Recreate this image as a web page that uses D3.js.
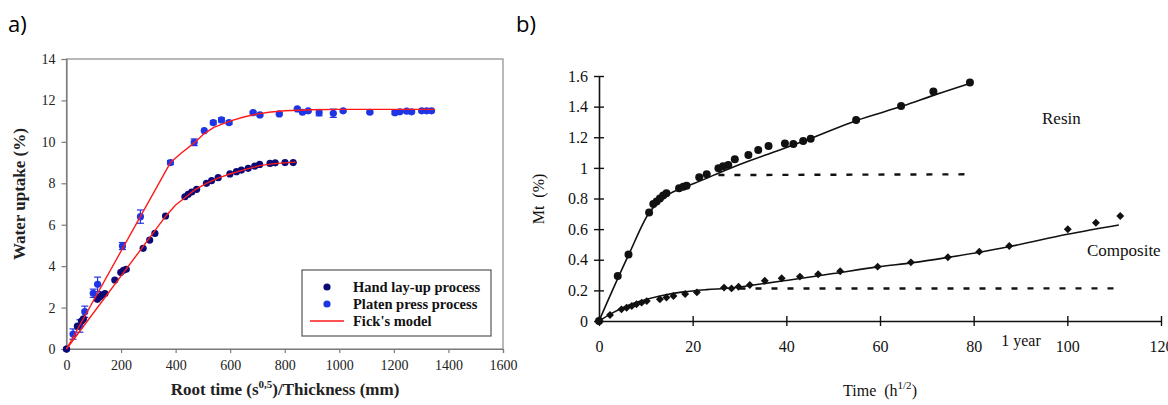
<!DOCTYPE html>
<html>
<head>
<meta charset="utf-8">
<script src="https://cdn.jsdelivr.net/npm/d3@7"></script>
<style>
  html, body { margin: 0; padding: 0; background: #ffffff; }
  svg { display: block; }
</style>
</head>
<body>
<svg id="chart" width="1168" height="405"></svg>
<script>
// ---------- Panel a) data ----------
const handX = [0, 40, 55, 62, 113, 122, 131, 141, 177, 199, 209, 219, 281, 305, 324, 363, 434, 446, 459, 477, 513, 532, 556, 599, 623, 641, 666, 690, 708, 746, 765, 801, 831];
const handY = [0, 1.1, 1.35, 1.45, 2.4, 2.52, 2.62, 2.68, 3.33, 3.7, 3.8, 3.85, 4.86, 5.26, 5.58, 6.42, 7.35, 7.47, 7.58, 7.71, 8.0, 8.13, 8.27, 8.45, 8.56, 8.64, 8.72, 8.83, 8.91, 8.96, 8.99, 9.0, 9.0];

const platenX = [0, 24, 49, 67, 98, 114, 205, 271, 381, 468, 505, 538, 568, 596, 684, 709, 780, 846, 865, 886, 926, 978, 1014, 1112, 1204, 1222, 1247, 1265, 1302, 1320, 1338];
const platenY = [0, 0.72, 1.11, 1.8, 2.69, 3.12, 4.97, 6.39, 9.0, 9.98, 10.54, 10.93, 11.06, 10.93, 11.41, 11.3, 11.35, 11.59, 11.43, 11.5, 11.41, 11.38, 11.5, 11.43, 11.41, 11.45, 11.48, 11.45, 11.5, 11.5, 11.5];
const platenErr = [0, 0.25, 0.3, 0.27, 0.2, 0.35, 0.17, 0.32, 0.1, 0.16, 0, 0.08, 0.1, 0.08, 0.05, 0.05, 0.05, 0.05, 0.05, 0.05, 0.15, 0.2, 0.05, 0.05, 0.08, 0.05, 0.05, 0.05, 0.05, 0.05, 0.05];

const fickHandX = [0, 363, 400, 434, 470, 513, 555, 599, 650, 708, 770, 840];
const fickHandY = [0, 6.4, 6.95, 7.3, 7.68, 8.0, 8.25, 8.45, 8.65, 8.85, 8.96, 9.02];
const fickPlatenX = [0, 381, 420, 468, 505, 540, 575, 611, 650, 700, 750, 800, 900, 1000, 1350];
const fickPlatenY = [0, 9.0, 9.45, 9.95, 10.4, 10.7, 10.88, 11.05, 11.2, 11.35, 11.44, 11.5, 11.55, 11.57, 11.57];

const xTicksA = [0, 200, 400, 600, 800, 1000, 1200, 1400, 1600];
const yTicksA = [0, 2, 4, 6, 8, 10, 12, 14];
const legendLabelsA = ["Hand lay-up process", "Platen press process", "Fick's model"];

// ---------- Panel b) data ----------
const resinX = [0, 4.0, 6.3, 10.7, 11.6, 12.3, 13.0, 13.7, 14.4, 17.1, 18.0, 18.7, 21.4, 23.0, 25.5, 26.5, 27.6, 29.0, 31.9, 34.0, 36.2, 39.7, 41.5, 43.6, 45.2, 54.9, 64.5, 71.4, 79.2];
const resinY = [0, 0.294, 0.435, 0.708, 0.764, 0.78, 0.80, 0.82, 0.835, 0.867, 0.877, 0.883, 0.938, 0.958, 0.997, 1.01, 1.018, 1.056, 1.084, 1.117, 1.143, 1.16, 1.156, 1.176, 1.19, 1.313, 1.404, 1.498, 1.557];
const resinFitX = [0, 6.3, 11, 13, 15, 18, 22, 27, 32, 38, 45, 55, 65, 72, 79.5];
const resinFitY = [0, 0.43, 0.72, 0.78, 0.83, 0.87, 0.92, 0.985, 1.045, 1.11, 1.19, 1.31, 1.405, 1.48, 1.555];
const resinDashX = [25.5, 79.2];
const resinDashY = [0.953, 0.958];

const compX = [0, 2.35, 4.8, 5.9, 7.0, 8.0, 9.1, 10.2, 13.0, 14.4, 15.9, 18.4, 20.9, 26.7, 28.3, 29.8, 32.2, 35.4, 39.0, 42.9, 46.8, 51.5, 59.5, 66.6, 74.5, 81.2, 87.6, 100.1, 106.1, 111.3];
const compY = [0, 0.039, 0.076, 0.087, 0.098, 0.109, 0.12, 0.13, 0.142, 0.154, 0.163, 0.176, 0.187, 0.218, 0.213, 0.224, 0.235, 0.263, 0.279, 0.29, 0.305, 0.325, 0.355, 0.383, 0.416, 0.453, 0.49, 0.599, 0.642, 0.686];
const compFitX = [0, 3, 6, 10, 14, 18, 23, 28, 33, 40, 50, 60, 67, 74.6, 81.2, 88, 100, 111];
const compFitY = [0, 0.055, 0.1, 0.14, 0.17, 0.19, 0.205, 0.215, 0.235, 0.265, 0.31, 0.355, 0.381, 0.416, 0.449, 0.488, 0.566, 0.627];
const compDashX = [30, 111.3];
const compDashY = [0.212, 0.213];

const xTicksB = [0, 20, 40, 60, 80, 100, 120];
const yTicksB = [0, 0.2, 0.4, 0.6, 0.8, 1.0, 1.2, 1.4, 1.6];
const yTickLabelsB = ["0", "0.2", "0.4", "0.6", "0.8", "1", "1.2", "1.4", "1.6"];

// ---------- drawing ----------
const svg = d3.select("#chart");
const serif = "'Liberation Serif', 'Times New Roman', serif";
const zip = (xs, ys) => xs.map((x, i) => [x, ys[i]]);

// panel labels
svg.append("text").attr("x", 8).attr("y", 32).text("a)")
  .attr("font-family", "'Open Sans', sans-serif").attr("font-size", 22).attr("fill", "#000");
svg.append("text").attr("x", 516).attr("y", 32).text("b)")
  .attr("font-family", "'Open Sans', sans-serif").attr("font-size", 22).attr("fill", "#000");

// ===== Panel a =====
const xA = d3.scaleLinear().domain([0, 1600]).range([66.5, 503]);
const yA = d3.scaleLinear().domain([0, 14]).range([349, 59]);
const gA = svg.append("g");

// frame
gA.append("rect").attr("x", xA(0)).attr("y", yA(14))
  .attr("width", xA(1600) - xA(0)).attr("height", yA(0) - yA(14))
  .attr("fill", "none").attr("stroke", "#8a8a8a").attr("stroke-width", 1.2);

const axA_x = gA.append("g").attr("transform", `translate(0,${yA(0)})`)
  .call(d3.axisBottom(xA).tickValues(xTicksA).tickSize(4).tickPadding(7).tickFormat(d3.format("d")));
const axA_y = gA.append("g").attr("transform", `translate(${xA(0)},0)`)
  .call(d3.axisLeft(yA).tickValues(yTicksA).tickSize(5).tickPadding(6).tickFormat(d3.format("d")));
[axA_x, axA_y].forEach(ax => {
  ax.select(".domain").attr("stroke", "#7a7a7a").attr("stroke-width", 1.2);
  ax.selectAll(".tick line").attr("stroke", "#7a7a7a").attr("stroke-width", 1.2);
  ax.selectAll(".tick text").attr("font-family", serif).attr("font-size", 14).attr("fill", "#222");
});

// axis titles
gA.append("text")
  .attr("transform", "translate(25,194) rotate(-90)")
  .attr("text-anchor", "middle")
  .attr("font-family", serif).attr("font-weight", "bold").attr("font-size", 17).attr("fill", "#222")
  .text("Water uptake (%)");
const xtA = gA.append("text").attr("x", 285).attr("y", 395).attr("text-anchor", "middle")
  .attr("font-family", serif).attr("font-weight", "bold").attr("font-size", 17).attr("fill", "#222");
xtA.append("tspan").text("Root time (s");
xtA.append("tspan").attr("font-size", 11).attr("dy", -7).text("0,5");
xtA.append("tspan").attr("dy", 7).text(")/Thickness (mm)");

// error bars (platen)
const errData = platenX.map((x, i) => ({ x, y: platenY[i], e: platenErr[i] })).filter(d => d.e > 0);
const eb = gA.append("g").attr("stroke", "#1e35e6").attr("stroke-width", 1.2);
errData.forEach(d => {
  eb.append("line").attr("x1", xA(d.x)).attr("x2", xA(d.x)).attr("y1", yA(d.y - d.e)).attr("y2", yA(d.y + d.e));
  eb.append("line").attr("x1", xA(d.x) - 3.5).attr("x2", xA(d.x) + 3.5).attr("y1", yA(d.y - d.e)).attr("y2", yA(d.y - d.e));
  eb.append("line").attr("x1", xA(d.x) - 3.5).attr("x2", xA(d.x) + 3.5).attr("y1", yA(d.y + d.e)).attr("y2", yA(d.y + d.e));
});

// points
gA.append("g").selectAll("circle").data(zip(platenX, platenY)).join("circle")
  .attr("cx", d => xA(d[0])).attr("cy", d => yA(d[1])).attr("r", 3.6).attr("fill", "#1e35e6");
gA.append("g").selectAll("circle").data(zip(handX, handY)).join("circle")
  .attr("cx", d => xA(d[0])).attr("cy", d => yA(d[1])).attr("r", 3.6).attr("fill", "#0b0b78");

// Fick's lines
const lineA = d3.line().x(d => xA(d[0])).y(d => yA(d[1]));
gA.append("path").datum(zip(fickPlatenX, fickPlatenY)).attr("d", lineA)
  .attr("fill", "none").attr("stroke", "#ff1a1a").attr("stroke-width", 1.4).attr("stroke-linejoin", "round");
gA.append("path").datum(zip(fickHandX, fickHandY)).attr("d", lineA)
  .attr("fill", "none").attr("stroke", "#ff1a1a").attr("stroke-width", 1.4).attr("stroke-linejoin", "round");

// legend
const leg = gA.append("g");
leg.append("rect").attr("x", 302).attr("y", 270).attr("width", 189).attr("height", 66)
  .attr("fill", "#fff").attr("stroke", "#555").attr("stroke-width", 1.2);
const legY = [287, 304, 321];
leg.append("circle").attr("cx", 327).attr("cy", legY[0]).attr("r", 3.6).attr("fill", "#0b0b78");
leg.append("circle").attr("cx", 327).attr("cy", legY[1]).attr("r", 3.6).attr("fill", "#1e35e6");
leg.append("line").attr("x1", 310).attr("x2", 344).attr("y1", legY[2]).attr("y2", legY[2])
  .attr("stroke", "#ff1a1a").attr("stroke-width", 1.4);
legendLabelsA.forEach((t, i) => {
  leg.append("text").attr("x", 353).attr("y", legY[i]).attr("dy", "0.35em")
    .attr("font-family", serif).attr("font-weight", "bold").attr("font-size", 14.5).attr("fill", "#111")
    .text(t);
});

// ===== Panel b =====
const xB = d3.scaleLinear().domain([0, 120]).range([599, 1161]);
const yB = d3.scaleLinear().domain([0, 1.6]).range([321, 76]);
const gB = svg.append("g");

const axB_x = gB.append("g").attr("transform", `translate(0,${yB(0)})`)
  .call(d3.axisBottom(xB).tickValues(xTicksB).tickSize(5).tickSizeOuter(0).tickFormat(d3.format("d")));
axB_x.selectAll(".tick line").attr("y1", -5).attr("y2", 5);
axB_x.selectAll(".tick text").attr("y", 31).attr("dy", 0);
const axB_y = gB.append("g").attr("transform", `translate(${xB(0)},0)`)
  .call(d3.axisLeft(yB).tickValues(yTicksB).tickSize(5).tickSizeOuter(0).tickFormat((d, i) => yTickLabelsB[i]));
axB_y.selectAll(".tick line").attr("x1", -5).attr("x2", 5);
axB_y.selectAll(".tick text").attr("x", -11);
[axB_x, axB_y].forEach(ax => {
  ax.select(".domain").attr("stroke", "#111").attr("stroke-width", 1.6);
  ax.selectAll(".tick line").attr("stroke", "#111").attr("stroke-width", 1.4);
  ax.selectAll(".tick text").attr("font-family", serif).attr("font-size", 16).attr("fill", "#111");
});

gB.append("text").attr("x", 1021).attr("y", 346).attr("text-anchor", "middle")
  .attr("font-family", serif).attr("font-size", 16).attr("fill", "#111").text("1 year");

const xtB = gB.append("text").attr("x", 880).attr("y", 396).attr("text-anchor", "middle")
  .attr("font-family", serif).attr("font-size", 16).attr("fill", "#111");
xtB.append("tspan").text("Time\u00a0 (h");
xtB.append("tspan").attr("font-size", 11).attr("dy", -7).text("1/2");
xtB.append("tspan").attr("dy", 7).text(")");

gB.append("text").attr("transform", "translate(544,199) rotate(-90)").attr("text-anchor", "middle")
  .attr("font-family", serif).attr("font-size", 16).attr("fill", "#111").text("Mt\u00a0 (%)");

gB.append("text").attr("x", 1042).attr("y", 124)
  .attr("font-family", serif).attr("font-size", 17).attr("fill", "#111").text("Resin");
gB.append("text").attr("x", 1087).attr("y", 256)
  .attr("font-family", serif).attr("font-size", 17).attr("fill", "#111").text("Composite");

const lineB = d3.line().x(d => xB(d[0])).y(d => yB(d[1])).curve(d3.curveMonotoneX);
const lineBLin = d3.line().x(d => xB(d[0])).y(d => yB(d[1]));

// dashed lines
[[resinDashX, resinDashY], [compDashX, compDashY]].forEach(([xs, ys]) => {
  gB.append("path").datum(zip(xs, ys)).attr("d", lineBLin)
    .attr("fill", "none").attr("stroke", "#111").attr("stroke-width", 2.4).attr("stroke-dasharray", "6,10");
});
// fitted lines
gB.append("path").datum(zip(resinFitX, resinFitY)).attr("d", lineB)
  .attr("fill", "none").attr("stroke", "#111").attr("stroke-width", 1.6);
gB.append("path").datum(zip(compFitX, compFitY)).attr("d", lineB)
  .attr("fill", "none").attr("stroke", "#111").attr("stroke-width", 1.6);

// markers
gB.append("g").selectAll("circle").data(zip(resinX, resinY)).join("circle")
  .attr("cx", d => xB(d[0])).attr("cy", d => yB(d[1])).attr("r", 4).attr("fill", "#111");
const diamond = d3.symbol().type(d3.symbolDiamond2).size(40);
gB.append("g").selectAll("path").data(zip(compX, compY)).join("path")
  .attr("transform", d => `translate(${xB(d[0])},${yB(d[1])})`).attr("d", diamond).attr("fill", "#111");
</script>
</body>
</html>
